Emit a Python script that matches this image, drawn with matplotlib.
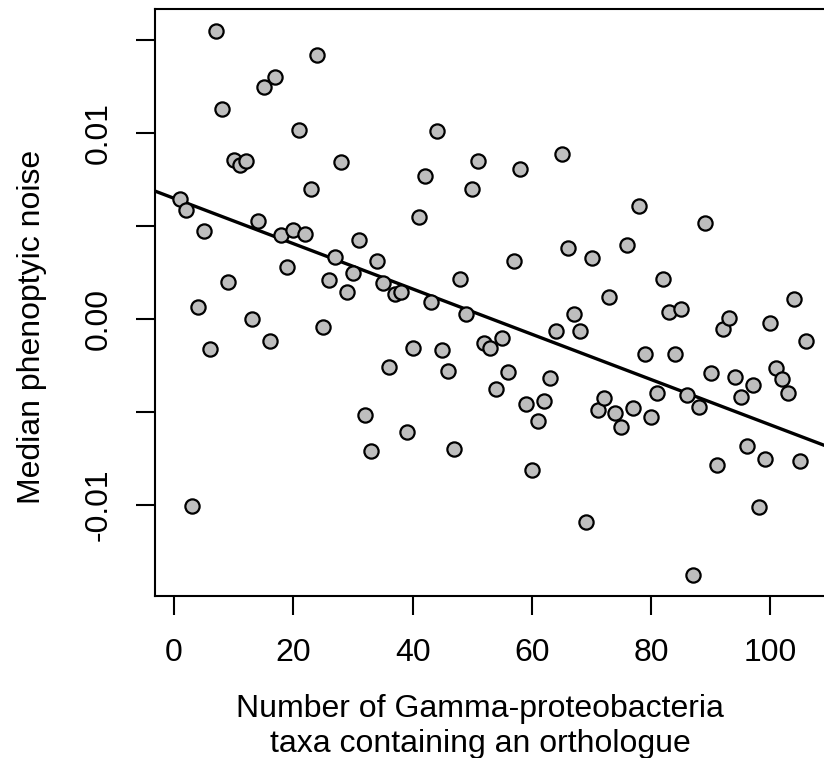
import numpy as np
import matplotlib
matplotlib.use("Agg")
import matplotlib.pyplot as plt

# number of Gamma-proteobacteria taxa containing an orthologue (one gene per rank)
taxa_count = [
    1, 2, 3, 4, 5, 6, 7, 8, 9, 10, 11, 12, 13, 14, 15, 16, 17, 18, 19, 20,
    21, 22, 23, 24, 25, 26, 27, 28, 29, 30, 31, 32, 33, 34, 35, 36, 37, 38, 39, 40,
    41, 42, 43, 44, 45, 46, 47, 48, 49, 50, 51, 52, 53, 54, 55, 56, 57, 58, 59, 60,
    61, 62, 63, 64, 65, 66, 67, 68, 69, 70, 71, 72, 73, 74, 75, 76, 77, 78, 79, 80,
    81, 82, 83, 84, 85, 86, 87, 88, 89, 90, 91, 92, 93, 94, 95, 96, 97, 98, 99, 100,
    101, 102, 103, 104, 105, 106,
]

# median phenotypic noise
median_noise = [
    0.00645, 0.00588, -0.01004, 0.00066, 0.00475, -0.00163, 0.01548, 0.01129, 0.00200, 0.00855,
    0.00828, 0.00848, -0.00002, 0.00529, 0.01247, -0.00120, 0.01300, 0.00452, 0.00281, 0.00478,
    0.01018, 0.00457, 0.00699, 0.01418, -0.00042, 0.00210, 0.00335, 0.00842, 0.00143, 0.00249,
    0.00425, -0.00516, -0.00713, 0.00312, 0.00195, -0.00260, 0.00134, 0.00145, -0.00606, -0.00158,
    0.00548, 0.00769, 0.00090, 0.01011, -0.00167, -0.00281, -0.00697, 0.00213, 0.00027, 0.00699,
    0.00851, -0.00131, -0.00158, -0.00378, -0.00104, -0.00283, 0.00310, 0.00806, -0.00459, -0.00815,
    -0.00547, -0.00441, -0.00319, -0.00065, 0.00885, 0.00380, 0.00025, -0.00063, -0.01090, 0.00326,
    -0.00489, -0.00427, 0.00118, -0.00507, -0.00579, 0.00400, -0.00477, 0.00609, -0.00187, -0.00529,
    -0.00400, 0.00215, 0.00039, -0.00188, 0.00055, -0.00410, -0.01376, -0.00471, 0.00518, -0.00289,
    -0.00785, -0.00054, 0.00007, -0.00312, -0.00418, -0.00681, -0.00357, -0.01009, -0.00753, -0.00023,
    -0.00265, -0.00324, -0.00400, 0.00108, -0.00762, -0.00120,
]

# trend line as drawn in the picture
fit_intercept = 0.00649
fit_slope = -0.0001219

x_ticks = [0, 20, 40, 60, 80, 100]
y_ticks = [-0.01, -0.005, 0.0, 0.005, 0.01, 0.015]
y_tick_labels = ["-0.01", "", "0.00", "", "0.01", ""]

plt.rcParams['font.family'] = ['Liberation Sans', 'DejaVu Sans']

x = np.array(taxa_count, dtype=float)
y = np.array(median_noise)

fig = plt.figure(figsize=(8.24, 7.58), dpi=100)
ax = fig.add_axes([0.1881, 0.2131, 0.8208, 0.7744])

ax.scatter(x, y, s=105, facecolor="#bebebe", edgecolor="black", linewidth=1.6, zorder=3)
ax.axline((0, fit_intercept), slope=fit_slope, color="black", linewidth=2.4, zorder=2)

# R-style 4% padding around the data
xr = x.max() - x.min()
yr = y.max() - y.min()
ax.set_xlim(x.min() - 0.04 * xr, x.max() + 0.04 * xr)
ax.set_ylim(y.min() - 0.04 * yr, y.max() + 0.04 * yr)

ax.set_xticks(x_ticks)
ax.set_yticks(y_ticks)
ax.set_yticklabels(y_tick_labels, rotation=90, va="center")
ax.tick_params(axis="both", labelsize=23, length=14, width=1.5, direction="out")
ax.tick_params(axis="x", pad=16)
ax.tick_params(axis="y", pad=16)
for sp in ax.spines.values():
    sp.set_linewidth(1.5)

ax.set_xlabel("Number of Gamma-proteobacteria\ntaxa containing an orthologue",
              fontsize=23, linespacing=1.22)
ax.xaxis.set_label_coords(0.481, -0.166)
ax.xaxis.label.set_va("top")
ax.set_ylabel("Median phenoptyic noise", fontsize=23)
ax.yaxis.set_label_coords(-0.16, 0.46)

fig.savefig("out.png", dpi=100)
